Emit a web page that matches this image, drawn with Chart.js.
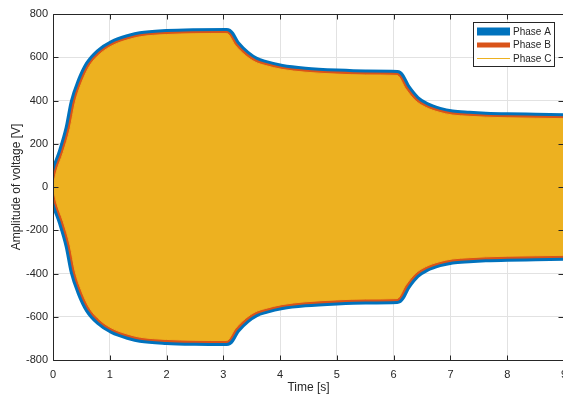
<!DOCTYPE html>
<html>
<head>
<meta charset="utf-8">
<script src="https://cdn.jsdelivr.net/npm/chart.js@4.4.1/dist/chart.umd.min.js"></script>
<style>
  html, body { margin: 0; padding: 0; background: #fff; overflow: hidden; }
</style>
</head>
<body>
<canvas id="voltageChart" width="570" height="399"></canvas>
<script>
// envelope of the three phase voltages (time in s, amplitude in V)
const times = [0, 0.06, 0.18, 0.30, 0.39, 0.51, 0.65, 0.83, 1.06, 1.36, 1.54, 2.0, 2.5, 3.06,
  3.21, 3.39, 3.56, 3.74, 4.03, 4.44, 5.0, 5.5, 6.06,
  6.21, 6.38, 6.56, 6.80, 7.03, 7.33, 7.62, 8.0, 8.5, 9.0];
const upperEnv = [0, 70, 160, 270, 390, 485, 562, 616, 656, 684, 695, 705, 709, 710,
  655, 608, 578, 562, 544, 531, 522, 518, 516,
  454, 400, 369, 346, 333, 327, 323, 320, 318, 316];
const lowerEnv = [0, -70, -160, -270, -390, -485, -562, -616, -656, -684, -695, -705, -709, -710,
  -655, -608, -578, -562, -544, -531, -522, -518, -516,
  -454, -400, -369, -346, -333, -327, -323, -320, -318, -316];
const phaseNames = ['Phase A', 'Phase B', 'Phase C'];
const xTicks = [0, 1, 2, 3, 4, 5, 6, 7, 8, 9];
const yTicks = [-800, -600, -400, -200, 0, 200, 400, 600, 800];

const FONT = "'Liberation Sans', Arial, Helvetica, sans-serif";
const AXIS = '#262626';
const colors = ['#0072BD', '#D95319', '#EDB120'];
const widths = [11, 5, 1];
const legendWidths = [8, 5, 1];

function pts(vals) {
  return times.map((t, i) => ({ x: t, y: vals[i] }));
}

const datasets = [];
phaseNames.forEach((name, p) => {
  const base = {
    borderColor: colors[p],
    borderWidth: widths[p],
    pointRadius: 0,
    cubicInterpolationMode: 'monotone',
    borderJoinStyle: 'round',
    order: 3 - p
  };
  datasets.push(Object.assign({}, base, {
    label: name, showInLegend: true, data: pts(upperEnv),
    fill: p === 2 ? '+1' : false, backgroundColor: colors[p]
  }));
  datasets.push(Object.assign({}, base, { label: name + ' (lower)', data: pts(lowerEnv), fill: false }));
});

const matlabBox = {
  id: 'matlabBox',
  afterDatasetsDraw(chart) {
    const { ctx, chartArea: a, scales: { x, y } } = chart;
    ctx.save();
    ctx.strokeStyle = AXIS;
    ctx.lineWidth = 1;
    const L = Math.round(a.left) + 0.5, R = Math.round(a.right) - 0.5;
    const T = Math.round(a.top) + 0.5, B = Math.round(a.bottom) + 0.5;
    ctx.beginPath();
    ctx.rect(L, T, R - L, B - T);
    xTicks.forEach(v => {
      const px = Math.round(x.getPixelForValue(v)) + 0.5;
      ctx.moveTo(px, B); ctx.lineTo(px, B - 5);
      ctx.moveTo(px, T); ctx.lineTo(px, T + 5);
    });
    yTicks.forEach(v => {
      const py = Math.round(y.getPixelForValue(v)) + 0.5;
      ctx.moveTo(L, py); ctx.lineTo(L + 5, py);
      ctx.moveTo(R, py); ctx.lineTo(R - 5, py);
    });
    ctx.stroke();

    // legend box, top right inside the axes
    const bx = 473.5, by = 22.5, bw = 81, bh = 44;
    ctx.fillStyle = '#fff';
    ctx.fillRect(bx, by, bw, bh);
    ctx.strokeRect(bx, by, bw, bh);
    const items = chart.data.datasets.filter(d => d.showInLegend);
    const rows = [31.5, 45, 58.5];
    ctx.font = '10px ' + FONT;
    ctx.textBaseline = 'middle';
    ctx.textAlign = 'left';
    items.forEach((d, i) => {
      ctx.strokeStyle = d.borderColor;
      ctx.lineWidth = legendWidths[i];
      ctx.beginPath();
      ctx.moveTo(477, rows[i]);
      ctx.lineTo(510, rows[i]);
      ctx.stroke();
      ctx.fillStyle = AXIS;
      ctx.fillText(d.label, 513, rows[i] + 0.5);
    });
    ctx.restore();
  }
};

const voltageCtx = document.getElementById('voltageChart').getContext('2d');
new Chart(voltageCtx, {
  type: 'line',
  data: { datasets: datasets },
  options: {
    responsive: false,
    animation: false,
    events: [],
    layout: { padding: { left: 0, right: 6, top: 14, bottom: 0 } },
    plugins: {
      legend: { display: false },
      tooltip: { enabled: false },
      filler: { propagate: false }
    },
    scales: {
      x: {
        type: 'linear',
        min: 0,
        max: 9,
        afterBuildTicks: s => { s.ticks = xTicks.map(v => ({ value: v })); },
        ticks: { color: AXIS, font: { family: FONT, size: 11 }, padding: 8, maxRotation: 0, autoSkip: false },
        grid: { color: '#e2e2e2', drawTicks: false },
        border: { display: false },
        title: {
          display: true, text: 'Time [s]', color: AXIS,
          font: { family: FONT, size: 12 }, padding: { top: 0, bottom: 4 }
        },
        afterFit: s => { s.height = 39; s.paddingLeft = 0; s.paddingRight = 0; }
      },
      y: {
        type: 'linear',
        min: -800,
        max: 800,
        afterBuildTicks: s => { s.ticks = yTicks.map(v => ({ value: v })); },
        ticks: { color: AXIS, font: { family: FONT, size: 11 }, padding: 5 },
        grid: { color: '#e2e2e2', drawTicks: false },
        border: { display: false },
        title: {
          display: true, text: 'Amplitude of voltage [V]', color: AXIS,
          font: { family: FONT, size: 12 }, padding: { top: 9, bottom: 0 }
        },
        afterFit: s => { s.width = 53; s.paddingTop = 0; s.paddingBottom = 0; }
      }
    }
  },
  plugins: [matlabBox]
});
</script>
</body>
</html>
